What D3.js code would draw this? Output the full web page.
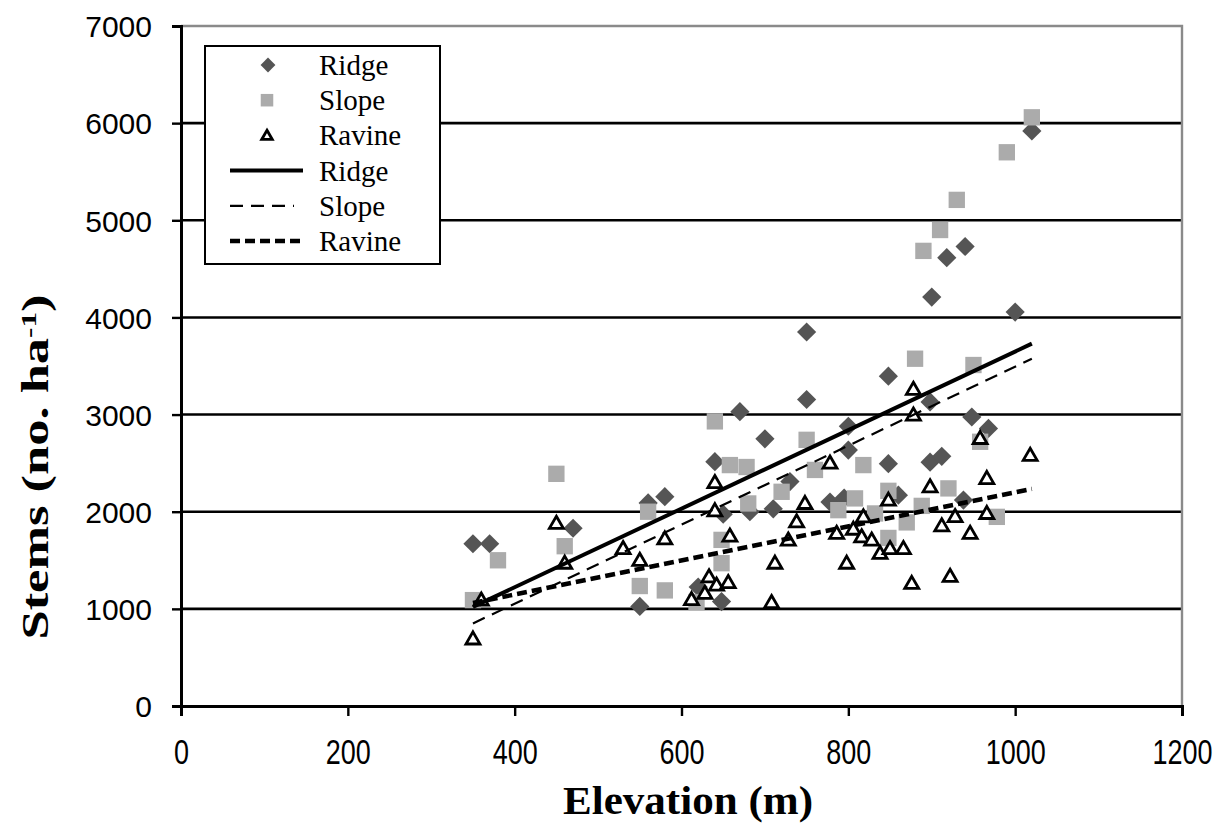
<!DOCTYPE html>
<html>
<head>
<meta charset="utf-8">
<script src="https://cdn.jsdelivr.net/npm/d3@7/dist/d3.min.js"></script>
<style>
  html, body { margin: 0; padding: 0; background: #fff; }
  svg { display: block; }
</style>
</head>
<body>
<svg id="chart" width="1230" height="826"></svg>
<script>
// Stem density by elevation, three topographic positions
const ridge = [
  [350,1670],[370,1670],[470,1830],[550,1025],[560,2090],[580,2155],[620,1225],
  [640,2515],[648,1075],[650,1975],[670,3030],[682,2000],[700,2750],[710,2030],
  [730,2310],[750,3850],[750,3155],[778,2100],[795,2140],[800,2880],[800,2635],
  [848,3395],[848,2495],[860,2170],[898,3130],[898,2510],[912,2570],[938,2120],
  [948,2975],[968,2857],[900,4210],[918,4615],[940,4730],[1000,4055],[1020,5920]
];
const slope = [
  [350,1090],[380,1500],[450,2390],[460,1645],[550,1235],[560,2000],[580,1190],
  [618,1070],[640,2930],[648,1710],[648,1470],[658,2480],[678,2460],[680,2085],
  [720,2205],[750,2740],[760,2430],[788,2016],[808,2137],[818,2480],[832,1982],
  [848,2215],[848,1730],[870,1890],[880,3575],[888,2060],[890,4685],[910,4900],
  [920,2240],[930,5210],[950,3510],[958,2720],[978,1947],[990,5700],[1020,6060]
];
const ravine = [
  [350,690],[360,1090],[450,1880],[460,1470],[530,1620],[550,1500],[580,1720],
  [612,1095],[628,1160],[633,1330],[642,1245],[640,2300],[640,2010],[656,1270],
  [658,1750],[708,1065],[712,1470],[728,1708],[738,1896],[748,2085],[778,2500],
  [786,1777],[798,1470],[806,1820],[816,1742],[818,1947],[828,1708],[838,1571],
  [848,2119],[850,1620],[866,1620],[876,1262],[878,3260],[878,2995],[898,2256],
  [912,1855],[922,1335],[928,1950],[946,1777],[958,2754],[966,2342],[966,1982],
  [1018,2580]
];
// Linear trend lines: [x, y] at each end of the fitted range
const ridgeTrend  = [[350,1020],[1020,3730]];
const slopeTrend  = [[350,850],[1020,3575]];
const ravineTrend = [[350,1060],[1020,2235]];

const xTicks = [0,200,400,600,800,1000,1200];
const yTicks = [0,1000,2000,3000,4000,5000,6000,7000];
const legendItems = ["Ridge","Slope","Ravine","Ridge","Slope","Ravine"];

const svg = d3.select("#chart");
const x = d3.scaleLinear().domain([0,1200]).range([181,1182]);
const y = d3.scaleLinear().domain([0,7000]).range([706,26]);

// Horizontal gridlines
svg.append("g").selectAll("line")
  .data(yTicks.filter(v => v > 0 && v < 7000))
  .join("line")
  .attr("x1", x(0)).attr("x2", x(1200))
  .attr("y1", d => y(d)).attr("y2", d => y(d))
  .attr("stroke", "#000").attr("stroke-width", 2.6);

// Plot frame (top and right)
svg.append("path")
  .attr("d", `M${x(0)},${y(7000)}H${x(1200)}V${y(0)}`)
  .attr("fill", "none").attr("stroke", "#8a8a8a").attr("stroke-width", 2.4);

// Axes
const yAxis = d3.axisLeft(y).tickValues(yTicks).tickSize(9).tickPadding(20).tickFormat(d3.format("d"));
const xAxis = d3.axisBottom(x).tickValues(xTicks).tickSize(10).tickPadding(0).tickFormat(d3.format("d"));

const gy = svg.append("g").attr("transform", `translate(${x(0)},0)`).call(yAxis);
const gx = svg.append("g").attr("transform", `translate(0,${y(0)})`).call(xAxis);
[gy, gx].forEach(g => {
  g.select(".domain").attr("stroke", "#000").attr("stroke-width", 3);
  g.selectAll(".tick line").attr("stroke", "#000").attr("stroke-width", 2.4);
  g.selectAll(".tick text")
    .attr("fill", "#000")
    .style("font-family", "'Liberation Sans', Arial, sans-serif");
});
gy.selectAll(".tick text").style("font-size", "30px").attr("dy", "0.36em");
// x tick labels are drawn slightly elongated vertically
gx.selectAll(".tick text")
  .style("font-size", "27px")
  .attr("y", 0).attr("dy", 0)
  .attr("transform", "translate(0,58) scale(1,1.3)");

// Markers
const diamond = d3.symbol().type(d3.symbolDiamond2).size(235);
const square = d3.symbol().type(d3.symbolSquare2).size(340);
const triangle = d3.symbol().type(d3.symbolTriangle2).size(140);

svg.append("g").selectAll("path").data(ridge).join("path")
  .attr("d", diamond)
  .attr("transform", d => `translate(${x(d[0])},${y(d[1])})`)
  .attr("fill", "#555");

svg.append("g").selectAll("path").data(slope).join("path")
  .attr("d", square)
  .attr("transform", d => `translate(${x(d[0])},${y(d[1])})`)
  .attr("fill", "#ababab");

svg.append("g").selectAll("path").data(ravine).join("path")
  .attr("d", triangle)
  .attr("transform", d => `translate(${x(d[0])},${y(d[1]) + 1})`)
  .attr("fill", "#fff").attr("stroke", "#000").attr("stroke-width", 2.8)
  .attr("stroke-linejoin", "miter");

// Trend lines
const line = d3.line().x(d => x(d[0])).y(d => y(d[1]));
const trendStyles = [
  { data: ridgeTrend,  width: 4,   dash: null },
  { data: slopeTrend,  width: 2.2, dash: "13,8" },
  { data: ravineTrend, width: 4.4, dash: "10,5" }
];
svg.append("g").selectAll("path").data(trendStyles).join("path")
  .attr("d", d => line(d.data))
  .attr("fill", "none").attr("stroke", "#000")
  .attr("stroke-width", d => d.width)
  .attr("stroke-dasharray", d => d.dash);

// Legend
const lg = svg.append("g");
lg.append("rect")
  .attr("x", 205).attr("y", 46).attr("width", 235).attr("height", 218)
  .attr("fill", "#fff").attr("stroke", "#000").attr("stroke-width", 2);

const rowY = i => 65 + i * 35.2;
lg.append("path").attr("d", d3.symbol().type(d3.symbolDiamond2).size(140))
  .attr("transform", `translate(268,${rowY(0)})`).attr("fill", "#555");
lg.append("path").attr("d", d3.symbol().type(d3.symbolSquare2).size(200))
  .attr("transform", `translate(267,${rowY(1)})`).attr("fill", "#ababab");
lg.append("path").attr("d", d3.symbol().type(d3.symbolTriangle2).size(80))
  .attr("transform", `translate(267,${rowY(2) + 1})`)
  .attr("fill", "#fff").attr("stroke", "#000").attr("stroke-width", 2.8);

trendStyles.forEach((s, i) => {
  lg.append("line")
    .attr("x1", 230).attr("x2", i === 1 ? 294 : 303)
    .attr("y1", rowY(3 + i)).attr("y2", rowY(3 + i))
    .attr("stroke", "#000").attr("stroke-width", s.width)
    .attr("stroke-dasharray", s.dash);
});

lg.selectAll("text").data(legendItems).join("text")
  .attr("x", 319).attr("y", (d, i) => rowY(i) + 10)
  .style("font-family", "'Liberation Serif', 'Times New Roman', serif")
  .style("font-size", "29px")
  .attr("fill", "#000")
  .text(d => d);

// Axis titles
svg.append("text")
  .attr("x", 688).attr("y", 814)
  .attr("text-anchor", "middle")
  .attr("textLength", 250).attr("lengthAdjust", "spacingAndGlyphs")
  .style("font-family", "'Liberation Serif', 'Times New Roman', serif")
  .style("font-size", "39px").style("font-weight", "bold")
  .text("Elevation (m)");

const yt = svg.append("text")
  .attr("transform", "translate(48,467) rotate(-90)")
  .attr("text-anchor", "middle")
  .attr("textLength", 345).attr("lengthAdjust", "spacingAndGlyphs")
  .style("font-family", "'Liberation Serif', 'Times New Roman', serif")
  .style("font-size", "37px").style("font-weight", "bold");
yt.append("tspan").text("Stems (no. ha");
yt.append("tspan").attr("baseline-shift", "super").style("font-size", "22px").text("-1");
yt.append("tspan").text(")");
</script>
</body>
</html>
